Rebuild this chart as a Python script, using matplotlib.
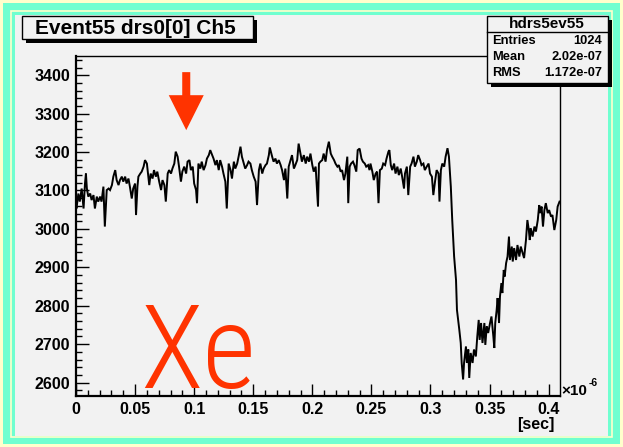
import numpy as np
import matplotlib
matplotlib.use("Agg")
import matplotlib.pyplot as plt
from matplotlib import font_manager as fm
from matplotlib.patches import Rectangle, Polygon
from matplotlib.lines import Line2D
from matplotlib.ticker import MultipleLocator, FixedLocator, FuncFormatter

# ---------------- data ----------------
sample_idx = [
    0, 1, 5, 8, 12, 16, 19, 21, 23, 26, 30, 33, 37, 40, 44, 47, 51, 54, 58, 61,
    65, 69, 72, 76, 79, 83, 86, 90, 93, 97, 100, 104, 107, 111, 114, 118, 121, 125, 127, 130,
    132, 136, 139, 143, 146, 150, 153, 155, 158, 162, 165, 169, 172, 176, 180, 183, 187, 190, 194, 197,
    201, 204, 208, 211, 215, 218, 222, 225, 229, 233, 236, 240, 243, 247, 250, 254, 256, 259, 263, 266,
    270, 274, 277, 281, 284, 288, 291, 295, 298, 302, 305, 309, 312, 316, 319, 323, 327, 330, 334, 337,
    341, 344, 348, 351, 355, 358, 362, 365, 369, 372, 376, 380, 383, 387, 390, 394, 397, 401, 404, 408,
    410, 415, 418, 422, 425, 429, 433, 436, 440, 443, 447, 450, 454, 457, 461, 464, 468, 471, 475, 478,
    482, 486, 489, 493, 496, 500, 503, 507, 512, 514, 517, 521, 524, 528, 531, 535, 539, 542, 546, 549,
    553, 556, 560, 563, 567, 570, 574, 576, 579, 582, 586, 589, 593, 596, 600, 604, 607, 611, 614, 618,
    621, 623, 627, 630, 634, 637, 640, 643, 647, 650, 654, 657, 661, 663, 666, 669, 673, 676, 680, 683,
    687, 690, 694, 696, 700, 703, 707, 710, 714, 717, 721, 724, 728, 731, 735, 738, 742, 746, 749, 753,
    756, 760, 763, 767, 769, 772, 775, 779, 782, 786, 789, 793, 796, 800, 804, 806, 811, 814, 816, 819,
    821, 825, 827, 830, 832, 835, 839, 842, 846, 849, 852, 854, 857, 860, 864, 866, 869, 872, 876, 879,
    883, 885, 887, 890, 892, 895, 897, 900, 902, 905, 907, 910, 913, 916, 918, 922, 924, 927, 931, 934,
    938, 941, 945, 948, 952, 955, 958, 960, 962, 966, 970, 973, 977, 980, 982, 985, 988, 991, 994, 998,
    1001, 1005, 1008, 1012, 1016, 1019, 1023,
]
adc_counts = [
    3060, 3053, 3092, 3071, 3105, 3053, 3118, 3144, 3105, 3084, 3092, 3075, 3088, 3053, 3084, 3071, 3084, 3071, 3110, 3006,
    3101, 3105, 3101, 3114, 3136, 3153, 3127, 3114, 3127, 3136, 3123, 3136, 3118, 3131, 3110, 3079, 3105, 3118, 3036, 3110,
    3136, 3144, 3149, 3162, 3179, 3170, 3136, 3114, 3144, 3131, 3153, 3136, 3149, 3123, 3101, 3127, 3114, 3071, 3144, 3153,
    3144, 3157, 3170, 3201, 3188, 3162, 3123, 3149, 3162, 3144, 3175, 3179, 3153, 3162, 3118, 3101, 3067, 3170, 3157, 3175,
    3153, 3166, 3183, 3192, 3205, 3192, 3183, 3166, 3179, 3153, 3179, 3162, 3144, 3123, 3053, 3170, 3153, 3131, 3175, 3157,
    3170, 3188, 3214, 3188, 3170, 3157, 3166, 3175, 3170, 3153, 3136, 3123, 3062, 3153, 3170, 3144, 3157, 3166, 3170, 3192,
    3212, 3188, 3175, 3183, 3170, 3179, 3166, 3153, 3127, 3157, 3079, 3162, 3179, 3192, 3157, 3166, 3179, 3222, 3196, 3175,
    3192, 3170, 3188, 3175, 3196, 3166, 3149, 3162, 3058, 3170, 3175, 3179, 3196, 3175, 3205, 3227, 3196, 3188, 3179, 3170,
    3162, 3166, 3149, 3153, 3127, 3144, 3188, 3067, 3162, 3170, 3175, 3166, 3149, 3205, 3209, 3183, 3175, 3170, 3162, 3166,
    3153, 3170, 3149, 3127, 3144, 3149, 3067, 3153, 3157, 3170, 3166, 3183, 3201, 3205, 3166, 3153, 3170, 3144, 3162, 3140,
    3157, 3136, 3105, 3144, 3162, 3088, 3162, 3170, 3188, 3162, 3175, 3192, 3179, 3166, 3170, 3153, 3162, 3170, 3144, 3136,
    3088, 3127, 3153, 3144, 3071, 3153, 3170, 3162, 3188, 3210, 3188, 3110, 3023, 2928, 2867, 2789, 2737, 2703, 2651, 2608,
    2651, 2694, 2651, 2686, 2612, 2677, 2651, 2686, 2668, 2720, 2763, 2711, 2755, 2703, 2755, 2698, 2746, 2729, 2755, 2772,
    2720, 2690, 2755, 2789, 2820, 2755, 2824, 2859, 2833, 2893, 2876, 2911, 2928, 2980, 2919, 2954, 2915, 2950, 2919, 2958,
    2928, 2954, 2937, 2924, 2971, 3023, 2997, 2971, 3002, 2980, 3006, 2993, 3023, 3062, 3041, 3058, 3006, 3049, 3067, 3041,
    3049, 3032, 3036, 2997, 3023, 3058, 3071,
]
dt_us = 0.0004            # sample spacing in 1e-6 s
x_range = (0.0, 0.4096)
y_range = (2565, 3450)
x_ticks = [0, 0.05, 0.1, 0.15, 0.2, 0.25, 0.3, 0.35, 0.4]
y_ticks = [2600, 2700, 2800, 2900, 3000, 3100, 3200, 3300, 3400]

title_text = "Event55 drs0[0] Ch5"
stats_name = "hdrs5ev55"
stats_rows = [("Entries", "1024"), ("Mean", "2.02e-07"), ("RMS", "1.172e-07")]
x_label = "[sec]"
annotation_text = "Xe"
annotation_pos = (0.0545, 2587)
arrow_x = 0.0933
arrow_top, arrow_head_base, arrow_tip = 3408, 3348, 3257
arrow_shaft_halfw, arrow_head_halfw = 0.0034, 0.0148

# ---------------- style ----------------
W, H = 623, 447
YELLOW = "#FFFFCC"
AQUA = "#70FFD0"
PAD = "#F2F2F2"
RED = "#FF3300"
BOLD = dict(family=["Liberation Sans", "DejaVu Sans"], weight="bold")


def pick_narrow_font():
    """Find a condensed sans face among the installed fonts."""
    entries = fm.fontManager.ttflist
    names = {f.name for f in entries}
    for pref in ["Roboto Condensed", "Liberation Sans Narrow", "Arial Narrow",
                 "Noto Sans Condensed", "Open Sans Condensed", "DejaVu Sans Condensed"]:
        if pref in names:
            return dict(family=[pref], fontstretch="normal", fontweight="light"), 84
    for f in entries:
        st = str(f.stretch).lower()
        if ("condensed" in st or "narrow" in st) and "extra" not in st and "ultra" not in st \
                and "Mono" not in f.name and "Serif" not in f.name:
            return dict(family=[f.name], fontstretch=f.stretch, fontweight="normal"), 82
    return dict(family=["Liberation Sans", "DejaVu Sans"], fontstretch="normal",
                fontweight="normal"), 74


fig = plt.figure(figsize=(W / 100, H / 100), dpi=100)
fig.patch.set_facecolor(YELLOW)


def frect(x0, y0, x1, y1, **kw):
    r = Rectangle((x0 / W, 1 - y1 / H), (x1 - x0) / W, (y1 - y0) / H,
                  transform=fig.transFigure, **kw)
    fig.add_artist(r)
    return r


# canvas borders
frect(3, 3, 620, 444, facecolor=AQUA, edgecolor="none", zorder=-10)
frect(11, 11, 612, 437, facecolor="none", edgecolor=YELLOW, lw=1.2, zorder=-9)
frect(15, 15, 608, 436, facecolor=PAD, edgecolor="none", zorder=-8)

# axes
ax = fig.add_axes([76 / W, (H - 396) / H, 484 / W, 340 / H])
ax.set_facecolor(PAD)
ax.plot(np.array(sample_idx) * dt_us, adc_counts, color="black", lw=1.4,
        solid_joinstyle="miter")
ax.set_xlim(*x_range)
ax.set_ylim(*y_range)

for s in ax.spines.values():
    s.set_linewidth(1.0)
    s.set_color("black")
ax.spines["left"].set_linewidth(1.6)
ax.spines["bottom"].set_linewidth(1.6)

ax.xaxis.set_major_locator(FixedLocator(x_ticks))
ax.xaxis.set_minor_locator(MultipleLocator(0.01))
ax.yaxis.set_major_locator(FixedLocator(y_ticks))
ax.yaxis.set_minor_locator(MultipleLocator(20))
ax.xaxis.set_major_formatter(FuncFormatter(lambda v, p: f"{v:g}"))
ax.yaxis.set_major_formatter(FuncFormatter(lambda v, p: f"{v:g}"))
ax.tick_params(which="both", direction="in", top=False, right=False,
               colors="black", width=1.0)
ax.tick_params(which="major", length=9, pad=4)
ax.tick_params(which="minor", length=4.5)
for lab in ax.get_xticklabels() + ax.get_yticklabels():
    lab.set_fontsize(11.5)
    lab.set_fontweight("bold")
    lab.set_family(["Liberation Sans", "DejaVu Sans"])

# arrow annotation
arrow = Polygon([
    (arrow_x - arrow_shaft_halfw, arrow_top),
    (arrow_x + arrow_shaft_halfw, arrow_top),
    (arrow_x + arrow_shaft_halfw, arrow_head_base),
    (arrow_x + arrow_head_halfw, arrow_head_base),
    (arrow_x, arrow_tip),
    (arrow_x - arrow_head_halfw, arrow_head_base),
    (arrow_x - arrow_shaft_halfw, arrow_head_base),
], closed=True, facecolor=RED, edgecolor="none", zorder=5)
ax.add_patch(arrow)

xe_font, xe_size = pick_narrow_font()
ax.text(annotation_pos[0], annotation_pos[1], annotation_text, color=RED,
        fontsize=xe_size, ha="left", va="baseline", zorder=5, **xe_font)

# axis label and exponent
fig.text(555 / W, 1 - 425 / H, x_label, ha="right", va="center", fontsize=11.5, **BOLD)
fig.text(561 / W, 1 - 391 / H, "\u00d710", ha="left", va="center", fontsize=11, **BOLD)
fig.text(589 / W, 1 - 383 / H, "-6", ha="left", va="center", fontsize=7.5, **BOLD)

# title box
frect(26, 20, 257, 43, facecolor="black", edgecolor="none", zorder=20)
frect(22, 16, 253, 39, facecolor=PAD, edgecolor="black", lw=1.0, zorder=21)
fig.text(135 / W, 1 - 28 / H, title_text, ha="center", va="center",
         fontsize=15, zorder=22, **BOLD)

# stats box
frect(491, 20, 612, 87, facecolor="black", edgecolor="none", zorder=20)
frect(487, 16, 608, 83, facecolor=PAD, edgecolor="black", lw=1.0, zorder=21)
fig.add_artist(Line2D([487 / W, 608 / W], [1 - 32 / H, 1 - 32 / H],
                      transform=fig.transFigure, color="black", lw=1.0, zorder=22))
fig.text(547 / W, 1 - 24 / H, stats_name, ha="center", va="center",
         fontsize=11, zorder=22, **BOLD)
row_y = [40.5, 56.5, 72.5]
for (lab, val), yy in zip(stats_rows, row_y):
    fig.text(492 / W, 1 - yy / H, lab, ha="left", va="center", fontsize=9.3, zorder=22, **BOLD)
    fig.text(602 / W, 1 - yy / H, val, ha="right", va="center", fontsize=9.3, zorder=22, **BOLD)

fig.savefig("out.png", dpi=100, facecolor=fig.get_facecolor())
